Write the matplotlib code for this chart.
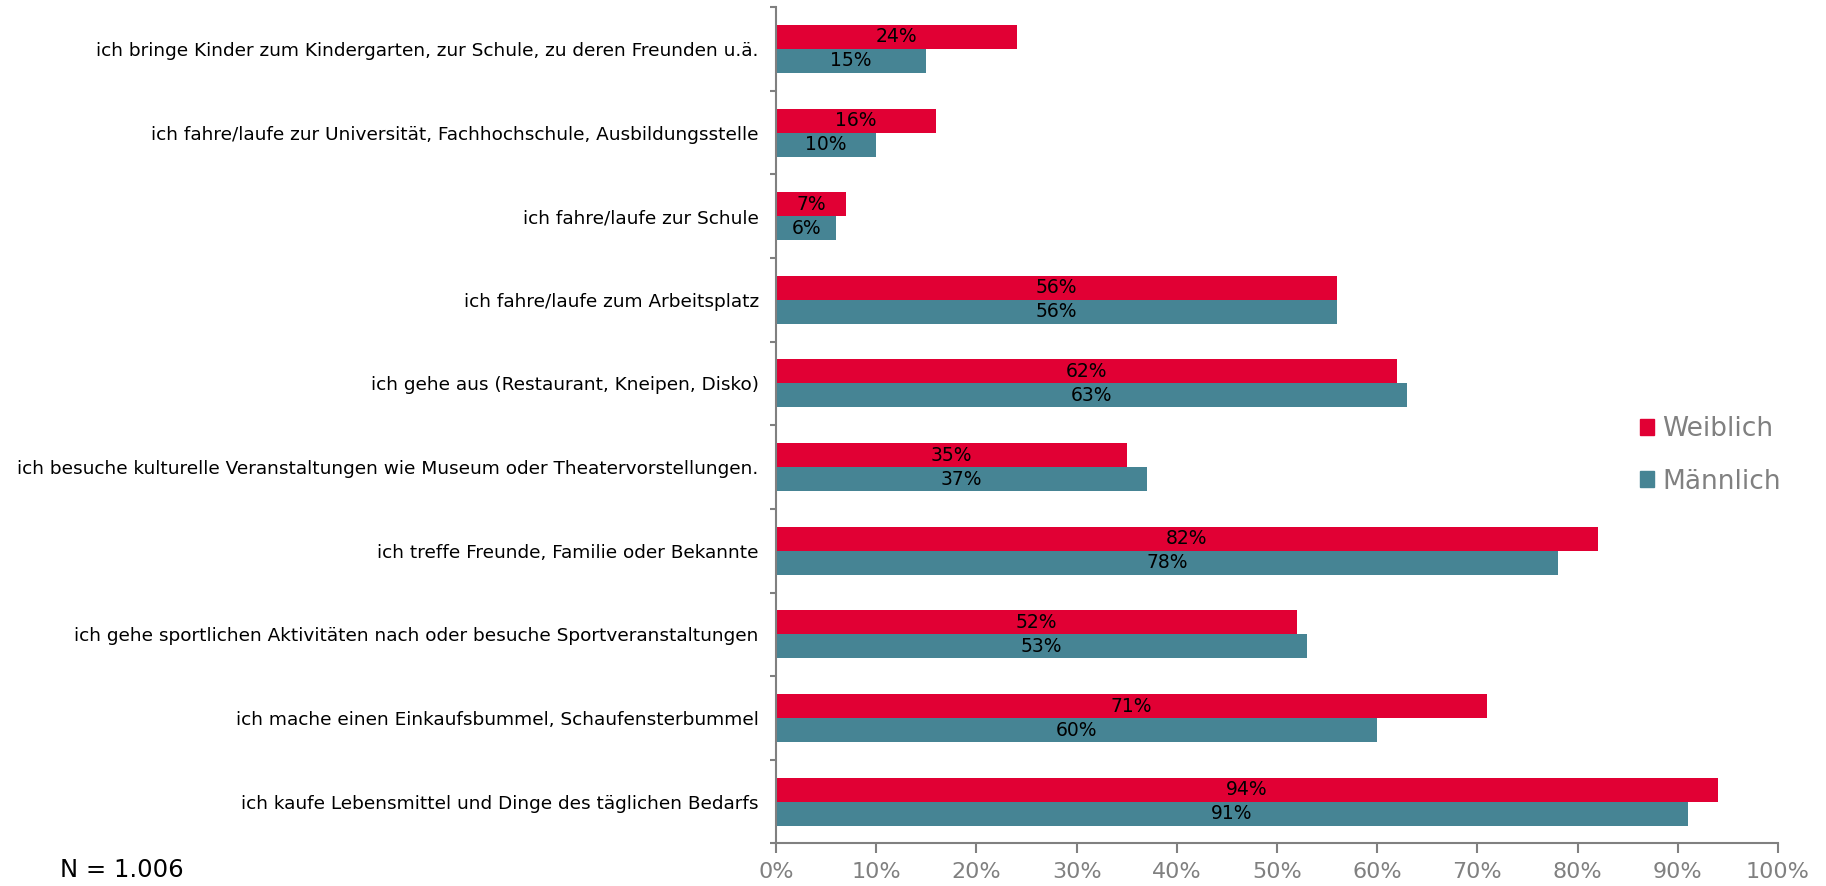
import numpy as np
import matplotlib.pyplot as plt
from matplotlib.patches import Patch

# Kategorien von oben nach unten
kategorien = [
    "ich bringe Kinder zum Kindergarten, zur Schule, zu deren Freunden u.ä.",
    "ich fahre/laufe zur Universität, Fachhochschule, Ausbildungsstelle",
    "ich fahre/laufe zur Schule",
    "ich fahre/laufe zum Arbeitsplatz",
    "ich gehe aus (Restaurant, Kneipen, Disko)",
    "ich besuche kulturelle Veranstaltungen wie Museum oder Theatervorstellungen.",
    "ich treffe Freunde, Familie oder Bekannte",
    "ich gehe sportlichen Aktivitäten nach oder besuche Sportveranstaltungen",
    "ich mache einen Einkaufsbummel, Schaufensterbummel",
    "ich kaufe Lebensmittel und Dinge des täglichen Bedarfs",
]
weiblich = [24, 16, 7, 56, 62, 35, 82, 52, 71, 94]
maennlich = [15, 10, 6, 56, 63, 37, 78, 53, 60, 91]
xticks = [0, 10, 20, 30, 40, 50, 60, 70, 80, 90, 100]

rot = "#E10034"
petrol = "#468494"
grau = "#808080"

fig = plt.figure(figsize=(18.26, 8.86), dpi=100)
ax = fig.add_axes([0.425, 0.048, 0.5487, 0.944])

n = len(kategorien)
y = np.arange(n)
h = 0.287

b1 = ax.barh(y - h / 2, weiblich, height=h, color=rot, label="Weiblich")
b2 = ax.barh(y + h / 2, maennlich, height=h, color=petrol, label="Männlich")
ax.bar_label(b1, labels=[f"{v}%" for v in weiblich], label_type="center", fontsize=13.5)
ax.bar_label(b2, labels=[f"{v}%" for v in maennlich], label_type="center", fontsize=13.5)

ax.set_ylim(n - 0.5, -0.5)
ax.set_xlim(0, 100)

ax.set_yticks(y)
ax.set_yticklabels(kategorien, fontsize=13.3)
ax.set_yticks(np.arange(n + 1) - 0.5, minor=True)
ax.tick_params(axis="y", which="major", length=0, pad=12.5)
ax.tick_params(axis="y", which="minor", length=4, width=1.5, color=grau)

ax.set_xticks(xticks)
ax.set_xticklabels([f"{v}%" for v in xticks])
ax.tick_params(axis="x", length=7, width=1.5, color=grau, labelcolor=grau,
               labelsize=16, pad=6)

for s in ["top", "right"]:
    ax.spines[s].set_visible(False)
for s in ["left", "bottom"]:
    ax.spines[s].set_color(grau)
    ax.spines[s].set_linewidth(1.5)

handles = [Patch(color=rot, label="Weiblich"), Patch(color=petrol, label="Männlich")]
fig.legend(handles=handles, loc="center left", bbox_to_anchor=(0.885, 0.486),
           frameon=False, fontsize=19, labelcolor=grau, handlelength=0.55,
           handleheight=0.55, handletextpad=0.3, labelspacing=1.0)

fig.text(0.033, 0.004, "N = 1.006", fontsize=17.5, va="bottom")

fig.savefig("out.png", dpi=100)
